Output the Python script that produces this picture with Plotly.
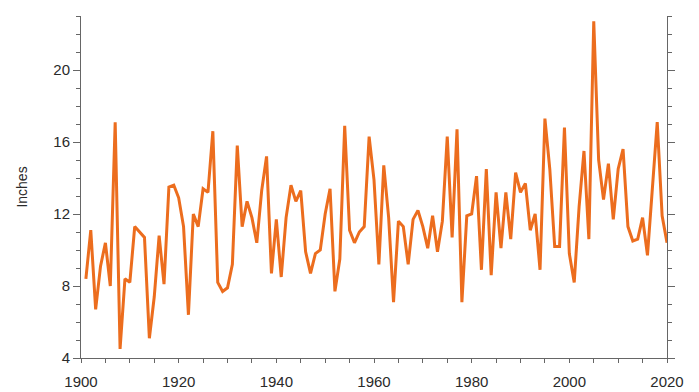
import plotly.graph_objects as go

years = list(range(1901, 2021))
inches = [
    8.4, 11.1, 6.7, 9.1, 10.4, 8.0, 17.1, 4.5, 8.4, 8.2,
    11.3, 11.0, 10.7, 5.1, 7.4, 10.8, 8.1, 13.5, 13.6, 12.9,
    11.3, 6.4, 12.0, 11.3, 13.4, 13.2, 16.6, 8.2, 7.7, 7.9,
    9.2, 15.8, 11.3, 12.7, 11.8, 10.4, 13.3, 15.2, 8.7, 11.7,
    8.5, 11.8, 13.6, 12.7, 13.3, 9.9, 8.7, 9.8, 10.0, 12.0,
    13.4, 7.7, 9.5, 16.9, 11.1, 10.4, 11.0, 11.3, 16.3, 13.9,
    9.2, 14.7, 11.8, 7.1, 11.6, 11.3, 9.2, 11.7, 12.2, 11.3,
    10.1, 11.9, 9.9, 11.6, 16.3, 10.7, 16.7, 7.1, 11.9, 12.0,
    14.1, 8.9, 14.5, 8.6, 13.2, 10.1, 13.2, 10.6, 14.3, 13.2,
    13.7, 11.1, 12.0, 8.9, 17.3, 14.5, 10.2, 10.2, 16.8, 9.8,
    8.2, 12.4, 15.5, 10.6, 22.7, 15.0, 12.8, 14.8, 11.7, 14.5,
    15.6, 11.3, 10.5, 10.6, 11.8, 9.7, 13.4, 17.1, 11.9, 10.4,
]

x_tickvals = [1900, 1920, 1940, 1960, 1980, 2000, 2020]
y_tickvals = [4, 8, 12, 16, 20]

fig = go.Figure()
fig.add_trace(go.Scatter(
    x=years, y=inches, mode="lines",
    line=dict(color="#EC6D1E", width=3),
    hoverinfo="skip",
))

axis_color = "#666666"
fig.update_layout(
    width=691, height=384,
    margin=dict(l=73, r=32, t=8, b=34),
    plot_bgcolor="white", paper_bgcolor="white",
    showlegend=False,
    font=dict(family="Liberation Sans, Arial, sans-serif", size=15, color="#2a2a2a"),
)
fig.update_xaxes(
    range=[1900, 2020], automargin=False,
    tickvals=x_tickvals,
    ticks="outside", ticklen=4, tickwidth=1, tickcolor=axis_color,
    ticklabelstandoff=6,
    showline=True, linecolor=axis_color, linewidth=1,
    showgrid=False, zeroline=False,
    minor=dict(dtick=5, tick0=1900, ticks="outside", ticklen=4, tickcolor=axis_color, showgrid=False),
    tickfont=dict(size=15),
)
fig.update_yaxes(
    range=[4, 23], automargin=False,
    tickvals=y_tickvals,
    ticks="outside", ticklen=7, tickwidth=1, tickcolor=axis_color,
    showline=True, linecolor=axis_color, linewidth=1, mirror="ticks",
    showgrid=False, zeroline=False,
    minor=dict(dtick=1, tick0=4, ticks="outside", ticklen=4, tickcolor=axis_color, showgrid=False),
    tickfont=dict(size=15),
    title=dict(text="Inches", font=dict(size=14), standoff=22),
)

fig.write_html("out.html")
